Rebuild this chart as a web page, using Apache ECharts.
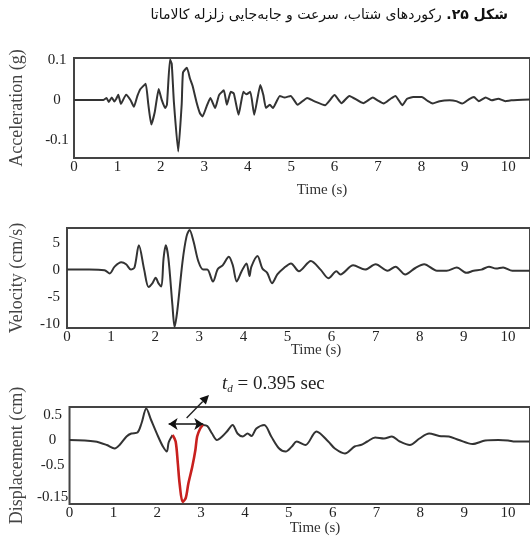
<!DOCTYPE html>
<html><head><meta charset="utf-8">
<script src="https://cdn.jsdelivr.net/npm/echarts@6/dist/echarts.min.js"></script>
<style>html,body{margin:0;padding:0;background:#fff}#c{width:530px;height:546px}</style>
</head><body><div id="c"></div>
<script>
// ---- data ----
const timeTicks = [0, 1, 2, 3, 4, 5, 6, 7, 8, 9, 10];
const accTicks = [0.1, 0, -0.1];
const accTickLabels = ['0.1', '0', '-0.1'];
const velTicks = [5, 0, -5, -10];
const velTickLabels = ['5', '0', '-5', '-10'];
const dispTicks = [0.5, 0, -0.5, -1.15];
const dispTickLabels = ['0.5', '0', '-0.5', '-0.15'];

const accel = [[0,0],[0.5,0],[0.68,0],[0.75,0.005],[0.8,-0.005],[0.87,0.006],[0.93,-0.004],[0.97,0.002],[1.02,0.013],[1.08,-0.01],[1.2,0.013],[1.3,0],[1.38,-0.017],[1.46,0.01],[1.53,0.027],[1.65,0.04],[1.71,-0.01],[1.78,-0.061],[1.86,-0.03],[1.95,0.027],[2.02,0],[2.1,-0.02],[2.14,-0.012],[2.21,0.1],[2.25,0.09],[2.3,-0.005],[2.4,-0.128],[2.48,-0.01],[2.51,0.068],[2.6,0.08],[2.67,0.053],[2.73,0.035],[2.82,-0.005],[2.9,-0.033],[2.96,-0.041],[3.05,-0.017],[3.14,0.005],[3.25,-0.02],[3.34,0.012],[3.45,0.024],[3.52,-0.012],[3.61,0.02],[3.68,0.016],[3.79,-0.037],[3.9,0.02],[3.97,0.014],[4.06,0.02],[4.15,-0.037],[4.29,0.037],[4.36,0.012],[4.42,-0.02],[4.51,-0.012],[4.58,-0.02],[4.74,0.01],[4.85,0.006],[4.99,0.01],[5.15,-0.012],[5.37,0.005],[5.53,-0.003],[5.78,-0.013],[6.0,0.012],[6.16,-0.008],[6.34,0.01],[6.66,-0.008],[6.88,0.006],[6.99,-0.001],[7.13,-0.009],[7.29,0.003],[7.4,0.01],[7.56,-0.013],[7.67,0.003],[7.81,0.007],[8.01,0.007],[8.15,-0.003],[8.26,-0.009],[8.42,-0.003],[8.65,-0.001],[8.8,-0.003],[8.94,-0.009],[9.1,0.002],[9.21,0.007],[9.32,-0.003],[9.48,0.006],[9.62,-0.001],[9.77,0.003],[9.93,-0.003],[10.07,-0.001],[10.5,0.001]];

const velocity = [[0,0],[0.5,0],[0.85,-0.1],[0.97,-0.7],[1.08,0.55],[1.23,1.35],[1.34,1.0],[1.45,0],[1.53,0.4],[1.63,4.5],[1.75,0],[1.85,-3.2],[1.94,-2.5],[2.01,-1.5],[2.08,-2.6],[2.14,-3.1],[2.19,2.1],[2.24,4.5],[2.3,2.1],[2.39,-6.5],[2.44,-10.6],[2.5,-7.7],[2.62,1.5],[2.71,6.1],[2.78,7.35],[2.87,5.2],[2.98,1.5],[3.09,0],[3.18,0],[3.31,-2.2],[3.42,0.1],[3.53,0.8],[3.67,2.4],[3.76,0.8],[3.85,-2.2],[3.96,-0.3],[4.07,1.15],[4.14,-1.2],[4.18,0.5],[4.32,2.5],[4.43,0.2],[4.54,-0.6],[4.65,-2.5],[4.77,-0.9],[4.92,0.3],[5.08,1.15],[5.26,-0.3],[5.53,1.6],[5.75,0],[5.93,-1.6],[6.11,-0.3],[6.2,-0.9],[6.49,0.8],[6.76,0],[7.0,1.0],[7.27,-0.2],[7.45,0.55],[7.67,-0.9],[7.9,0.3],[8.1,1.0],[8.39,-0.2],[8.61,-0.2],[8.84,0.4],[9.06,-0.6],[9.22,-0.2],[9.4,0],[9.57,0.55],[9.73,0.2],[9.89,0.4],[10.1,-0.2],[10.5,-0.2]];

const dispBefore = [[0,0],[0.58,-0.03],[0.85,-0.1],[1.03,-0.17],[1.14,-0.1],[1.3,0.07],[1.41,0.13],[1.55,0.15],[1.64,0.33],[1.75,0.63],[1.86,0.4],[2.02,0.07],[2.13,-0.13],[2.22,-0.23],[2.26,-0.05],[2.35,0.1]];
const dispPulse = [[2.35,0.1],[2.42,-0.03],[2.47,-0.47],[2.51,-0.87],[2.58,-1.24],[2.65,-1.16],[2.71,-0.87],[2.8,-0.53],[2.87,-0.2],[2.91,0.07],[2.98,0.23],[3.04,0.3]];
const dispAfter = [[3.04,0.3],[3.14,0.28],[3.25,0.13],[3.36,0],[3.48,0.07],[3.59,0.17],[3.72,0.3],[3.83,0.13],[3.95,0.07],[4.06,0.13],[4.15,0.08],[4.26,0.23],[4.44,0.3],[4.6,0.07],[4.78,-0.17],[4.93,-0.23],[5.07,-0.13],[5.18,-0.03],[5.38,-0.1],[5.63,0.17],[5.9,-0.03],[6.05,-0.17],[6.28,-0.27],[6.5,-0.13],[6.64,-0.1],[6.79,-0.03],[6.97,0.05],[7.17,0.03],[7.35,0.07],[7.53,-0.03],[7.76,-0.1],[7.98,0.03],[8.2,0.13],[8.43,0.08],[8.65,0.07],[8.88,0],[9.19,-0.08],[9.48,-0.01],[9.78,0],[10.0,-0.01],[10.16,-0.03],[10.5,-0.03]];

const tdSpan = [2.26, 3.05];   // horizontal double arrow (s)
const tdLevel = 0.32;          // its height (cm)
const pointerFrom = [2.67, 0.44];
const pointerTo = [3.18, 0.9];
const titleMain = 'رکوردهای شتاب، سرعت و جابه‌جایی زلزله کالاماتا ';
const titleBold = 'شکل ۲۵';

// ---- chart ----
const SERIF = '"Liberation Serif","Times New Roman",serif';
const TXT = '#222';
const chart = echarts.init(document.getElementById('c'), null, {renderer: 'canvas'});

function xAx(gi) {
  return {
    type: 'value', gridIndex: gi, min: 0, max: 10.5,
    axisLine: {show: false}, axisTick: {show: false}, splitLine: {show: false},
    axisLabel: {customValues: timeTicks, margin: 2, color: TXT, fontFamily: SERIF, fontSize: 15}
  };
}
function yAx(gi, min, max, ticks, labels, name, gap, margin, align) {
  return {
    type: 'value', gridIndex: gi, min: min, max: max,
    axisLine: {show: false}, axisTick: {show: false}, splitLine: {show: false},
    axisLabel: {
      customValues: ticks, margin: margin, align: align, color: TXT, fontFamily: SERIF, fontSize: 15,
      formatter: v => { const i = ticks.findIndex(t => Math.abs(t - v) < 1e-9); return i >= 0 ? labels[i] : ''; }
    },
    name: name, nameLocation: 'middle', nameGap: gap, nameRotate: 90,
    nameTextStyle: {color: '#444', fontFamily: SERIF, fontSize: 18}
  };
}
const gridBase = {show: true, borderColor: '#444', borderWidth: 2, backgroundColor: 'transparent', containLabel: false};
const lineBase = {type: 'line', showSymbol: false, smooth: 0.3, silent: true, animation: false, z: 3};

chart.setOption({
  animation: false,
  grid: [
    Object.assign({left: 71, top: 58, width: 466, height: 100}, gridBase),
    Object.assign({left: 64, top: 228, width: 469, height: 100}, gridBase),
    Object.assign({left: 66, top: 407, width: 468, height: 97}, gridBase)
  ],
  xAxis: [xAx(0), xAx(1), xAx(2)],
  yAxis: [
    yAx(0, -0.144, 0.104, accTicks, accTickLabels, 'Acceleration (g)', 48, 17, 'center'),
    yAx(1, -10.8, 7.7, velTicks, velTickLabels, 'Velocity (cm/s)', 41, 7, 'right'),
    yAx(2, -1.28, 0.66, dispTicks, dispTickLabels, 'Displacement (cm)', 43, 17, 'center')
  ],
  series: [
    Object.assign({}, lineBase, {xAxisIndex: 0, yAxisIndex: 0, data: accel, smooth: 0.15, lineStyle: {color: '#333', width: 2}}),
    Object.assign({}, lineBase, {xAxisIndex: 1, yAxisIndex: 1, data: velocity, lineStyle: {color: '#333', width: 2}}),
    Object.assign({}, lineBase, {xAxisIndex: 2, yAxisIndex: 2, data: dispBefore, lineStyle: {color: '#333', width: 2}}),
    Object.assign({}, lineBase, {xAxisIndex: 2, yAxisIndex: 2, data: dispAfter, lineStyle: {color: '#333', width: 2}}),
    Object.assign({}, lineBase, {xAxisIndex: 2, yAxisIndex: 2, data: dispPulse, z: 4, lineStyle: {color: '#c8201e', width: 2.6},
      markLine: {
        silent: true, symbol: ['arrow', 'arrow'], symbolSize: 9, animation: false,
        label: {show: false}, lineStyle: {color: '#111', width: 1.6, type: 'solid'},
        emphasis: {disabled: true},
        data: [[{coord: [tdSpan[0], tdLevel]}, {coord: [tdSpan[1], tdLevel]}]]
      }})
  ]
});

// annotation pointer and texts
const p0 = chart.convertToPixel({xAxisIndex: 2, yAxisIndex: 2}, pointerFrom);
const p1 = chart.convertToPixel({xAxisIndex: 2, yAxisIndex: 2}, pointerTo);
const ang = Math.atan2(p1[1] - p0[1], p1[0] - p0[0]);
const hl = 9, hw = 4.5;
const bx = p1[0] - hl * Math.cos(ang), by = p1[1] - hl * Math.sin(ang);
const head = [
  [p1[0], p1[1]],
  [bx + hw * Math.sin(ang), by - hw * Math.cos(ang)],
  [bx - hw * Math.sin(ang), by + hw * Math.cos(ang)]
];

chart.setOption({
  graphic: [
    {type: 'line', silent: true, shape: {x1: p0[0], y1: p0[1], x2: bx, y2: by}, style: {stroke: '#222', lineWidth: 1.4}},
    {type: 'polygon', silent: true, shape: {points: head}, style: {fill: '#111'}},
    {type: 'text', silent: true, x: 222, y: 384, style: {
      text: '{t|t}{s|d}{n| = 0.395 sec}', verticalAlign: 'middle', align: 'left',
      rich: {
        t: {fontFamily: SERIF, fontSize: 19, fontStyle: 'italic', fill: '#222'},
        s: {fontFamily: SERIF, fontSize: 11, fontStyle: 'italic', fill: '#222', padding: [10, 0, 0, 0]},
        n: {fontFamily: SERIF, fontSize: 19, fill: '#222'}
      }}},
    {type: 'text', silent: true, x: 322, y: 190, style: {text: 'Time (s)', align: 'center', verticalAlign: 'middle', fontFamily: SERIF, fontSize: 15, fill: '#333'}},
    {type: 'text', silent: true, x: 316, y: 350, style: {text: 'Time (s)', align: 'center', verticalAlign: 'middle', fontFamily: SERIF, fontSize: 15, fill: '#333'}},
    {type: 'text', silent: true, x: 315, y: 528, style: {text: 'Time (s)', align: 'center', verticalAlign: 'middle', fontFamily: SERIF, fontSize: 15, fill: '#333'}},
    {type: 'text', silent: true, x: 508, y: 15, style: {
      text: '{n|' + titleMain + '}{b|.}{b|' + titleBold + '}', align: 'right', verticalAlign: 'middle',
      rich: {
        n: {fontFamily: '"DejaVu Sans",sans-serif', fontSize: 14, fill: '#111'},
        b: {fontFamily: '"DejaVu Sans",sans-serif', fontSize: 14, fontWeight: 'bold', fill: '#111'}
      }}}
  ]
});
</script></body></html>
